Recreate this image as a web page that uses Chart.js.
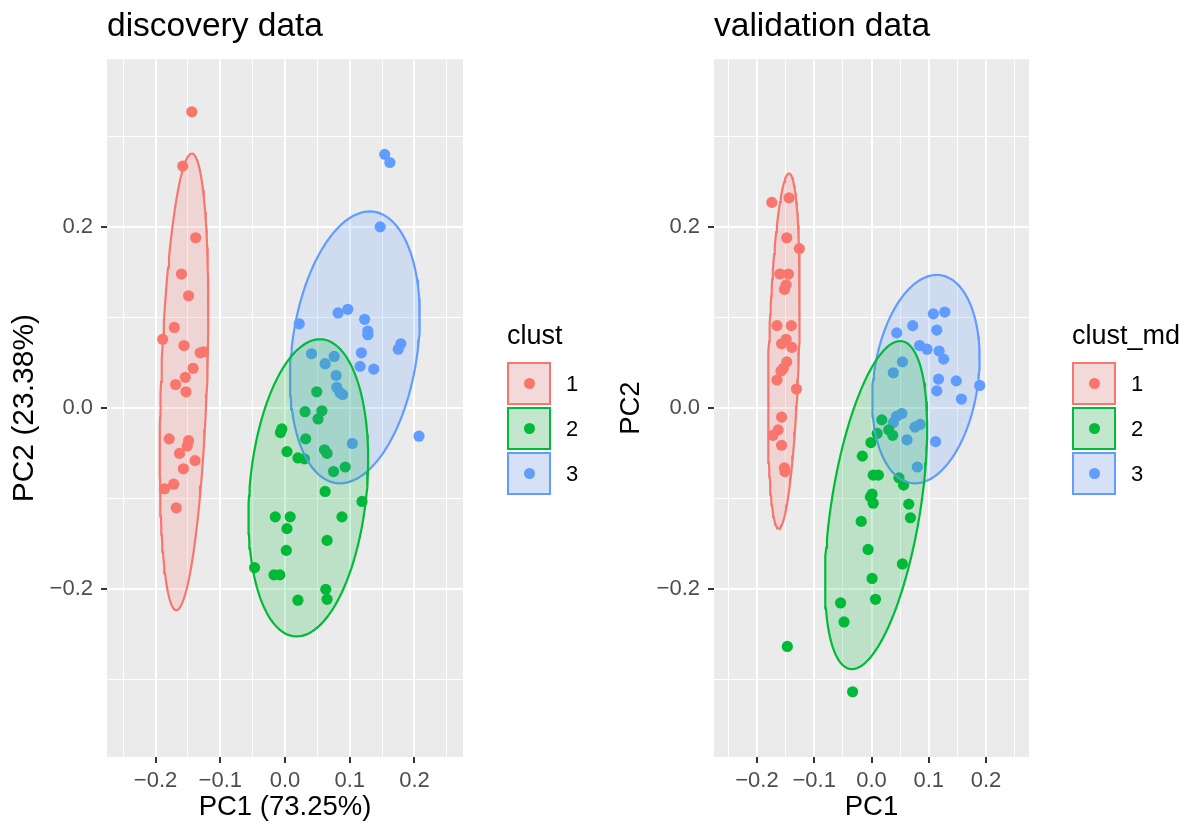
<!DOCTYPE html>
<html lang="en">
<head>
<meta charset="UTF-8">
<title>discovery / validation PCA</title>
<script src="https://cdn.jsdelivr.net/npm/chart.js"></script>
<style>
    body {
        margin: 0;
        padding: 0;
        background: #ffffff;
        font-family: "Liberation Sans", Arial, sans-serif;
    }

    #wrap {
        position: relative;
        width: 1193px;
        height: 825px;
        overflow: hidden;
    }

    #left-box, #right-box {
        position: absolute;
        top: 0;
        height: 825px;
    }

    #left-box { left: 0; width: 600px; }
    #right-box { left: 600px; width: 593px; }

    .ltitle {
        position: absolute;
        font-size: 27px;
        line-height: 27px;
        color: #000;
        white-space: nowrap;
    }

    .key {
        position: absolute;
        width: 44px;
        height: 43px;
        box-sizing: border-box;
        border: 2px solid;
        background-color: #f2f2f2;
    }

    .key .dot {
        position: absolute;
        left: 50%;
        top: 50%;
        width: 11px;
        height: 11px;
        margin: -5.5px 0 0 -5.5px;
        border-radius: 50%;
    }

    .klabel {
        position: absolute;
        font-size: 22px;
        line-height: 22px;
        color: #000;
    }
</style>
</head>
<body>
<div id="wrap">
    <div id="left-box"><canvas id="discChart"></canvas></div>
    <div id="right-box"><canvas id="valChart"></canvas></div>
</div>

<script>
    // cluster names and colours (ggplot hue palette)
    const clusterNames = ['1', '2', '3'];
    const clusterColors = ['#F8766D', '#00BA38', '#619CFF'];
    const clusterFills = ['rgba(248,118,109,0.2)', 'rgba(0,186,56,0.2)', 'rgba(97,156,255,0.2)'];

    // axis ticks (minor + major) and labels
    const xTicks = [-0.25, -0.2, -0.15, -0.1, -0.05, 0, 0.05, 0.1, 0.15, 0.2, 0.25];
    const xMajor = [-0.2, -0.1, 0, 0.1, 0.2];
    const xTickLabels = ['\u22120.2', '\u22120.1', '0.0', '0.1', '0.2'];
    const yTicks = [-0.3, -0.2, -0.1, 0, 0.1, 0.2, 0.3];
    const yMajor = [-0.2, 0, 0.2];
    const yTickLabels = ['\u22120.2', '0.0', '0.2'];

    // discovery data: [PC1, PC2]
    const disc1 = [[-0.144, 0.327], [-0.158, 0.267], [-0.138, 0.188], [-0.160, 0.148], [-0.149, 0.124],
        [-0.171, 0.089], [-0.189, 0.076], [-0.156, 0.069], [-0.131, 0.061], [-0.126, 0.062],
        [-0.142, 0.044], [-0.154, 0.034], [-0.169, 0.026], [-0.153, 0.018], [-0.179, -0.034],
        [-0.149, -0.036], [-0.151, -0.042], [-0.163, -0.050], [-0.139, -0.058], [-0.157, -0.067],
        [-0.172, -0.084], [-0.186, -0.089], [-0.168, -0.110]];
    const disc2 = [[0.049, 0.018], [0.031, -0.004], [0.057, -0.003], [0.051, -0.012], [-0.005, -0.023],
        [-0.007, -0.027], [0.032, -0.034], [0.061, -0.046], [0.065, -0.050], [0.003, -0.048],
        [0.020, -0.055], [0.030, -0.056], [0.093, -0.065], [0.075, -0.070], [0.062, -0.092],
        [0.119, -0.103], [-0.015, -0.120], [0.008, -0.120], [0.088, -0.120], [0.003, -0.133],
        [0.065, -0.146], [0.002, -0.157], [-0.047, -0.176], [-0.017, -0.184], [-0.008, -0.184],
        [0.020, -0.212], [0.063, -0.200], [0.065, -0.211]];
    const disc3 = [[0.154, 0.280], [0.162, 0.271], [0.147, 0.200], [0.082, 0.105], [0.097, 0.109],
        [0.123, 0.098], [0.022, 0.093], [0.128, 0.085], [0.128, 0.081], [0.179, 0.071],
        [0.175, 0.065], [0.041, 0.060], [0.076, 0.057], [0.062, 0.049], [0.118, 0.061],
        [0.116, 0.046], [0.137, 0.043], [0.079, 0.036], [0.080, 0.023], [0.089, 0.015],
        [0.085, 0.017], [0.104, -0.039], [0.207, -0.031]];

    // validation data: [PC1, PC2]
    const val1 = [[-0.174, 0.227], [-0.144, 0.232], [-0.148, 0.188], [-0.126, 0.176], [-0.160, 0.148],
        [-0.145, 0.148], [-0.149, 0.136], [-0.152, 0.131], [-0.165, 0.091], [-0.140, 0.091],
        [-0.149, 0.076], [-0.157, 0.071], [-0.139, 0.067], [-0.148, 0.051], [-0.154, 0.044],
        [-0.158, 0.041], [-0.165, 0.031], [-0.131, 0.021], [-0.157, -0.010], [-0.163, -0.024],
        [-0.172, -0.030], [-0.157, -0.041], [-0.152, -0.066], [-0.151, -0.070]];
    const val2 = [[0.018, -0.013], [0.010, -0.028], [0.030, -0.024], [0.037, -0.030], [-0.001, -0.038],
        [-0.016, -0.053], [0.003, -0.074], [0.012, -0.074], [0.048, -0.077], [0.056, -0.085],
        [0.001, -0.095], [-0.002, -0.098], [0.003, -0.105], [0.065, -0.106], [0.068, -0.121],
        [-0.018, -0.125], [-0.006, -0.156], [0.054, -0.172], [0.001, -0.188], [-0.054, -0.215],
        [0.007, -0.211], [-0.048, -0.236], [-0.147, -0.263], [-0.033, -0.313]];
    const val3 = [[0.108, 0.104], [0.128, 0.106], [0.044, 0.083], [0.072, 0.091], [0.114, 0.086],
        [0.084, 0.069], [0.097, 0.065], [0.118, 0.063], [0.126, 0.054], [0.054, 0.051],
        [0.038, 0.039], [0.117, 0.032], [0.148, 0.030], [0.189, 0.025], [0.114, 0.019],
        [0.157, 0.010], [0.053, -0.006], [0.044, -0.009], [0.038, -0.016], [0.076, -0.021],
        [0.085, -0.018], [0.062, -0.035], [0.112, -0.037], [0.080, -0.065]];

    // 95% ellipses: centre, topmost point, horizontal half-width through centre
    const discEllCenter = [[-0.156, 0.029], [0.036, -0.088], [0.108, 0.067]];
    const discEllTop = [[-0.144, 0.281], [0.054, 0.076], [0.131, 0.217]];
    const discEllHalfWidth = [0.0355, 0.0907, 0.0976];
    const valEllCenter = [[-0.153, 0.063], [0.008, -0.107], [0.095, 0.032]];
    const valEllTop = [[-0.144, 0.259], [0.050, 0.074], [0.114, 0.147]];
    const valEllHalfWidth = [0.0262, 0.0787, 0.0918];

    const FONT = '"Liberation Sans", Arial, sans-serif';

    function ellipseOutline(center, top, hw) {
        // top - center and the horizontal half chord are conjugate semi-diameters
        const ax = top[0] - center[0], ay = top[1] - center[1];
        const pts = [];
        for (let i = 0; i <= 120; i++) {
            const t = i / 120 * 2 * Math.PI;
            pts.push({ x: center[0] + ax * Math.cos(t) + hw * Math.sin(t), y: center[1] + ay * Math.cos(t) });
        }
        return pts;
    }

    function isIn(v, arr) {
        return arr.some(a => Math.abs(a - v) < 1e-9);
    }

    function labelFor(v, major, labels) {
        const i = major.findIndex(a => Math.abs(a - v) < 1e-9);
        return i >= 0 ? labels[i] : '';
    }

    const panelBg = {
        id: 'panelBg',
        beforeDraw(chart) {
            const a = chart.chartArea;
            chart.ctx.save();
            chart.ctx.fillStyle = '#EBEBEB';
            chart.ctx.fillRect(a.left, a.top, a.right - a.left, a.bottom - a.top);
            chart.ctx.restore();
        }
    };

    function makePanel(canvasId, cfg) {
        const datasets = [];
        cfg.groups.forEach((g, i) => {
            datasets.push({
                label: 'ellipse ' + clusterNames[i],
                data: ellipseOutline(cfg.ellCenter[i], cfg.ellTop[i], cfg.ellHalfWidth[i]),
                showLine: true,
                fill: 'shape',
                borderColor: clusterColors[i],
                backgroundColor: clusterFills[i],
                borderWidth: 2.2,
                pointRadius: 0,
                tension: 0,
                order: 0
            });
        });
        cfg.groups.forEach((g, i) => {
            datasets.push({
                label: clusterNames[i],
                data: g.map(p => ({ x: p[0], y: p[1] })),
                backgroundColor: clusterColors[i],
                borderWidth: 0,
                pointRadius: 5.6,
                order: 1
            });
        });

        const tickFont = { family: FONT, size: 22 };

        return new Chart(document.getElementById(canvasId), {
            type: 'scatter',
            data: { datasets: datasets },
            options: {
                responsive: true,
                maintainAspectRatio: false,
                animation: false,
                events: [],
                layout: { padding: { left: 0, right: cfg.padRight, top: 0, bottom: 0 } },
                plugins: {
                    legend: { display: false },
                    tooltip: { enabled: false },
                    title: {
                        display: true,
                        text: cfg.title,
                        align: 'start',
                        fullSize: false,
                        color: '#000',
                        font: { family: FONT, size: 33.5, weight: 'normal' },
                        padding: { top: 7, bottom: 12 }
                    }
                },
                scales: {
                    x: {
                        type: 'linear',
                        min: -0.275,
                        max: 0.275,
                        afterBuildTicks: axis => { axis.ticks = xTicks.map(v => ({ value: v })); },
                        afterFit: scale => { scale.height = 68; },
                        border: { display: false },
                        grid: {
                            color: '#ffffff',
                            lineWidth: c => isIn(c.tick.value, xMajor) ? 2 : 1,
                            tickColor: c => isIn(c.tick.value, xMajor) ? '#333333' : 'rgba(0,0,0,0)',
                            tickLength: 6,
                            tickWidth: 2
                        },
                        ticks: {
                            autoSkip: false,
                            maxRotation: 0,
                            padding: 5,
                            color: '#4D4D4D',
                            font: tickFont,
                            callback: v => labelFor(v, xMajor, xTickLabels)
                        },
                        title: {
                            display: true,
                            text: cfg.xTitle,
                            color: '#000',
                            font: { family: FONT, size: 27.5 },
                            padding: { top: 0, bottom: 1 }
                        }
                    },
                    y: {
                        type: 'linear',
                        min: -0.385,
                        max: 0.385,
                        afterBuildTicks: axis => { axis.ticks = yTicks.map(v => ({ value: v })); },
                        afterFit: scale => { scale.width = cfg.yWidth; },
                        border: { display: false },
                        grid: {
                            color: '#ffffff',
                            lineWidth: c => isIn(c.tick.value, yMajor) ? 2 : 1,
                            tickColor: c => isIn(c.tick.value, yMajor) ? '#333333' : 'rgba(0,0,0,0)',
                            tickLength: 6,
                            tickWidth: 2
                        },
                        ticks: {
                            autoSkip: false,
                            padding: 8,
                            color: '#4D4D4D',
                            font: tickFont,
                            callback: v => labelFor(v, yMajor, yTickLabels)
                        },
                        title: {
                            display: true,
                            text: cfg.yTitle,
                            color: '#000',
                            font: { family: FONT, size: cfg.yTitleSize },
                            padding: { top: cfg.yTitlePad, bottom: 0 }
                        }
                    }
                }
            },
            plugins: [panelBg]
        });
    }

    function makeLegend(left, title) {
        const wrap = document.getElementById('wrap');
        const t = document.createElement('div');
        t.className = 'ltitle';
        t.style.left = left + 'px';
        t.style.top = '322px';
        t.textContent = title;
        wrap.appendChild(t);
        clusterNames.forEach((name, i) => {
            const top = 362 + i * 45;
            const key = document.createElement('div');
            key.className = 'key';
            key.style.left = left + 'px';
            key.style.top = top + 'px';
            key.style.borderColor = clusterColors[i];
            key.style.backgroundImage = 'linear-gradient(' + clusterFills[i] + ',' + clusterFills[i] + ')';
            const dot = document.createElement('div');
            dot.className = 'dot';
            dot.style.background = clusterColors[i];
            key.appendChild(dot);
            wrap.appendChild(key);
            const lab = document.createElement('div');
            lab.className = 'klabel';
            lab.style.left = (left + 59) + 'px';
            lab.style.top = (top + 11) + 'px';
            lab.textContent = name;
            wrap.appendChild(lab);
        });
    }

    makePanel('discChart', {
        title: 'discovery data',
        xTitle: 'PC1 (73.25%)',
        yTitle: 'PC2 (23.38%)',
        yTitleSize: 30,
        groups: [disc1, disc2, disc3],
        ellCenter: discEllCenter,
        ellTop: discEllTop,
        ellHalfWidth: discEllHalfWidth,
        yWidth: 107,
        yTitlePad: 7,
        padRight: 137
    });

    makePanel('valChart', {
        title: 'validation data',
        xTitle: 'PC1',
        yTitle: 'PC2',
        yTitleSize: 27.5,
        groups: [val1, val2, val3],
        ellCenter: valEllCenter,
        ellTop: valEllTop,
        ellHalfWidth: valEllHalfWidth,
        yWidth: 114,
        yTitlePad: 15,
        padRight: 164
    });

    makeLegend(507, 'clust');
    makeLegend(1072, 'clust_md');
</script>
</body>
</html>
